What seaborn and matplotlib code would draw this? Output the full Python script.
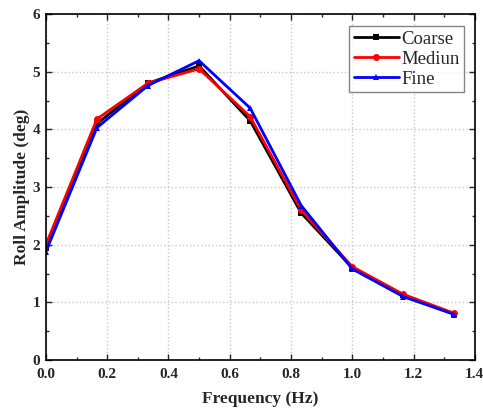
import matplotlib
matplotlib.use("Agg")
import matplotlib.pyplot as plt
import seaborn as sns
import pandas as pd
from matplotlib.ticker import MultipleLocator

freq = [0.0, 0.1667, 0.3333, 0.5, 0.6667, 0.8333, 1.0, 1.1667, 1.3333]
coarse = [1.95, 4.10, 4.80, 5.10, 4.15, 2.55, 1.60, 1.12, 0.80]
medium = [2.00, 4.18, 4.80, 5.05, 4.22, 2.60, 1.62, 1.14, 0.81]
fine = [1.88, 4.03, 4.76, 5.19, 4.37, 2.68, 1.58, 1.10, 0.79]
series_names = ["Coarse", "Mediun", "Fine"]

df = pd.concat([
    pd.DataFrame({"Frequency": freq, "Amp": v, "Mesh": n})
    for v, n in zip([coarse, medium, fine], series_names)
])

sns.set_style("ticks")
plt.rcParams['font.family'] = ['Liberation Serif', 'DejaVu Serif']

fig = plt.figure(figsize=(4.83, 4.12), dpi=100)
ax = fig.add_axes([0.095, 0.126, 0.888, 0.84])

sns.lineplot(data=df, x="Frequency", y="Amp", hue="Mesh", style="Mesh",
             palette={"Coarse": "black", "Mediun": "red", "Fine": "blue"},
             markers={"Coarse": "s", "Mediun": "o", "Fine": "^"},
             dashes=False, linewidth=2, markersize=5, markeredgewidth=0,
             ax=ax)

ax.set_xlim(0, 1.4)
ax.set_ylim(0, 6)
ax.xaxis.set_major_locator(MultipleLocator(0.2))
ax.xaxis.set_minor_locator(MultipleLocator(0.1))
ax.yaxis.set_major_locator(MultipleLocator(1))
ax.yaxis.set_minor_locator(MultipleLocator(0.5))
ax.set_xticks(ax.get_xticks())
ax.set_xticklabels([f"{v:.1f}" for v in ax.get_xticks()], fontweight='bold')
ax.set_yticks(ax.get_yticks())
ax.set_yticklabels([f"{int(v)}" for v in ax.get_yticks()], fontweight='bold')
ax.set_xlim(0, 1.4)
ax.set_ylim(0, 6)
ax.tick_params(which='both', direction='in', top=True, right=True, labelsize=11)
ax.tick_params(axis='x', pad=6)
ax.tick_params(axis='y', pad=4)
ax.tick_params(which='major', length=4, width=1)
ax.tick_params(which='minor', length=2.5, width=1)
for s in ax.spines.values():
    s.set_linewidth(1.2)
    s.set_color('black')
ax.grid(True, which='major', linestyle=':', color='#c8c8c8', linewidth=1)
ax.set_xlabel("Frequency (Hz)", fontsize=12.5, fontweight='bold', labelpad=7)
ax.set_ylabel("Roll Amplitude (deg)", fontsize=12.5, fontweight='bold', labelpad=2)

leg = ax.legend(title=None, loc='upper right', fontsize=13.5, frameon=True,
                fancybox=False, edgecolor='#666666', handlelength=2.4,
                borderpad=0.25, labelspacing=0.15, handletextpad=0.15,
                borderaxespad=0, bbox_to_anchor=(0.976, 0.965))
leg.get_frame().set_linewidth(1)

fig.savefig("out.png", dpi=100)
